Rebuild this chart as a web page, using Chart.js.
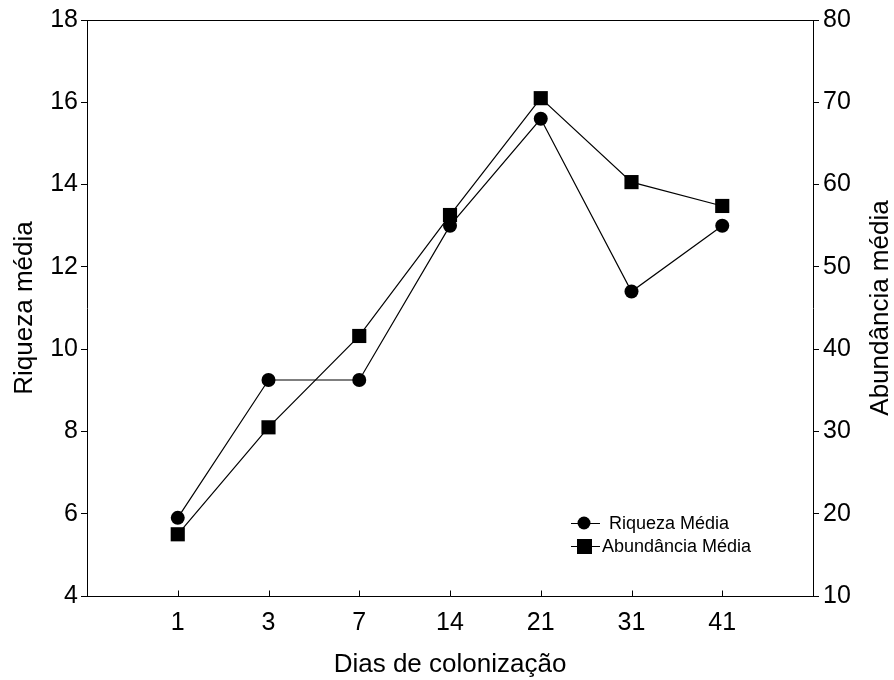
<!DOCTYPE html>
<html>
<head>
<meta charset="utf-8">
<script src="https://cdn.jsdelivr.net/npm/chart.js@4"></script>
<style>
  html,body{margin:0;padding:0;background:#fff;}
  #wrap{width:894px;height:680px;}
</style>
</head>
<body>
<div id="wrap"><canvas id="chart" width="894" height="680"></canvas></div>
<script>
const DIAS       = ['1', '3', '7', '14', '21', '31', '41'];
const RIQUEZA    = [5.9, 9.25, 9.25, 13.0, 15.6, 11.4, 13.0];
const ABUNDANCIA = [17.5, 30.5, 41.6, 56.3, 70.5, 60.3, 57.4];

const FONT = 'Liberation Sans, Arial, Helvetica, sans-serif';

function pts(arr){ return arr.map((v,i)=>({x:i+1, y:v})); }

// frame top line, inner x ticks, right title, legend
const extras = {
  id:'extras',
  afterDraw(chart){
    const ctx = chart.ctx, a = chart.chartArea, xs = chart.scales.x;
    ctx.save();
    ctx.strokeStyle = '#000'; ctx.lineWidth = 1;
    ctx.beginPath();
    const top = Math.round(a.top) + 0.5;
    ctx.moveTo(a.left, top); ctx.lineTo(a.right, top);
    const bot = Math.round(a.bottom) + 0.5;
    DIAS.forEach((_,i)=>{
      const x = Math.round(xs.getPixelForValue(i+1)) + 0.5;
      ctx.moveTo(x, bot); ctx.lineTo(x, bot - 6);
    });
    ctx.stroke();

    // right axis title, reading bottom to top
    ctx.fillStyle = '#000';
    ctx.font = '26px ' + FONT;
    ctx.textAlign = 'center'; ctx.textBaseline = 'middle';
    ctx.translate(881, (a.top + a.bottom) / 2);
    ctx.rotate(-Math.PI / 2);
    ctx.fillText('Abundância média', 0, 0);
    ctx.restore();

    // legend
    ctx.save();
    ctx.strokeStyle = '#000'; ctx.fillStyle = '#000'; ctx.lineWidth = 1;
    ctx.font = '18px ' + FONT;
    ctx.textBaseline = 'middle'; ctx.textAlign = 'left';
    const rows = [
      {label:'Riqueza Média', y:523, style:'circle', tx:609},
      {label:'Abundância Média', y:546, style:'rect', tx:602}
    ];
    rows.forEach(r=>{
      ctx.beginPath();
      ctx.moveTo(571, r.y + 0.5); ctx.lineTo(600, r.y + 0.5);
      ctx.stroke();
      if (r.style === 'circle') {
        ctx.beginPath(); ctx.arc(584, r.y, 6.5, 0, Math.PI * 2); ctx.fill();
      } else {
        ctx.fillRect(577, r.y - 7, 15, 15);
      }
      ctx.fillText(r.label, r.tx, r.y + 1);
    });
    ctx.restore();
  }
};

new Chart(document.getElementById('chart').getContext('2d'), {
  type:'line',
  data:{
    datasets:[
      {label:'Riqueza Média', data:pts(RIQUEZA), yAxisID:'y',
       borderColor:'#000', backgroundColor:'#000', borderWidth:1.2,
       pointStyle:'circle', pointRadius:7, pointBorderWidth:0, tension:0},
      {label:'Abundância Média', data:pts(ABUNDANCIA), yAxisID:'y1',
       borderColor:'#000', backgroundColor:'#000', borderWidth:1.2,
       pointStyle:'rect', pointRadius:10, pointBorderWidth:0, tension:0}
    ]
  },
  options:{
    responsive:false,
    animation:false,
    events:[],
    layout:{padding:{top:20, left:0, right:0, bottom:0}},
    plugins:{legend:{display:false}, tooltip:{enabled:false}},
    scales:{
      x:{
        type:'linear', min:0, max:8,
        grid:{display:true, drawOnChartArea:false, drawTicks:false},
        border:{color:'#000', width:1},
        ticks:{stepSize:1, padding:12, color:'#000', font:{family:FONT, size:25},
               callback:(v)=>DIAS[v-1] ?? ''},
        title:{display:true, text:'Dias de colonização', color:'#000',
               font:{family:FONT, size:26}, padding:{top:0, bottom:0}},
        afterFit:(s)=>{ s.height = 84; }
      },
      y:{
        position:'left', min:4, max:18,
        grid:{drawOnChartArea:false, tickLength:6, color:'#000'},
        border:{color:'#000', width:1},
        ticks:{stepSize:2, padding:3, color:'#000', font:{family:FONT, size:25}},
        title:{display:true, text:'Riqueza média', color:'#000',
               font:{family:FONT, size:26}, padding:{top:9, bottom:0}},
        afterFit:(s)=>{ s.width = 87; }
      },
      y1:{
        position:'right', min:10, max:80,
        grid:{drawOnChartArea:false, tickLength:6, color:'#000'},
        border:{color:'#000', width:1},
        ticks:{stepSize:10, padding:4, color:'#000', font:{family:FONT, size:25}},
        afterFit:(s)=>{ s.width = 81; }
      }
    }
  },
  plugins:[extras]
});
</script>
</body>
</html>
